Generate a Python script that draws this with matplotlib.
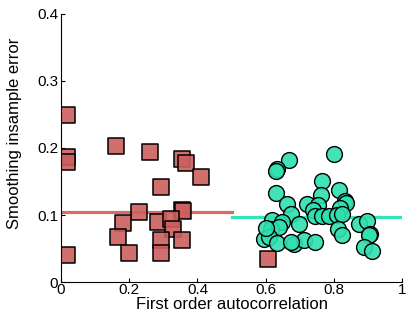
import matplotlib
matplotlib.use("Agg")
import matplotlib.pyplot as plt

# squares: low autocorrelation group
sq_x = [0.017, 0.017, 0.017, 0.017, 0.160, 0.261, 0.354, 0.367, 0.410, 0.293,
        0.230, 0.354, 0.359, 0.183, 0.285, 0.322, 0.328, 0.168, 0.292, 0.354,
        0.200, 0.292, 0.608]
sq_y = [0.249, 0.186, 0.179, 0.040, 0.203, 0.194, 0.183, 0.178, 0.157, 0.142,
        0.105, 0.108, 0.106, 0.088, 0.089, 0.094, 0.079, 0.067, 0.062, 0.062,
        0.043, 0.044, 0.035]

# circles: high autocorrelation group
ci_x = [0.801, 0.669, 0.634, 0.630, 0.764, 0.630, 0.816, 0.762, 0.662, 0.722,
        0.752, 0.833, 0.836, 0.818, 0.674, 0.740, 0.746, 0.764, 0.787, 0.809,
        0.823, 0.619, 0.647, 0.697, 0.616, 0.640, 0.812, 0.823, 0.875, 0.898,
        0.906, 0.904, 0.595, 0.611, 0.634, 0.684, 0.713, 0.745, 0.889, 0.913,
        0.600, 0.675]
ci_y = [0.191, 0.182, 0.168, 0.165, 0.151, 0.133, 0.137, 0.130, 0.116, 0.116,
        0.115, 0.121, 0.118, 0.110, 0.101, 0.107, 0.099, 0.099, 0.099, 0.100,
        0.101, 0.093, 0.090, 0.086, 0.079, 0.082, 0.079, 0.070, 0.087, 0.091,
        0.072, 0.070, 0.064, 0.067, 0.058, 0.057, 0.062, 0.060, 0.053, 0.047,
        0.080, 0.060]

# group means
mean_lo = 0.104
mean_hi = 0.0966
lo_span = [0, 0.5]
hi_span = [0.5, 1.0]

plt.rcParams['font.family'] = ['Liberation Sans', 'DejaVu Sans']

fig = plt.figure(figsize=(4.07, 3.22), dpi=100)
ax = fig.add_axes([0.150, 0.124, 0.838, 0.833])

ax.plot(lo_span, [mean_lo, mean_lo], color='#d86a6a', lw=2.3, zorder=1)
ax.plot(hi_span, [mean_hi, mean_hi], color='#30e6b4', lw=2.3, zorder=1)

ax.scatter(sq_x, sq_y, marker='s', s=120, facecolor=(0.80, 0.37, 0.37, 0.9),
           edgecolor='black', linewidth=1.1, zorder=2)
ax.scatter(ci_x, ci_y, marker='o', s=130, facecolor=(0.19, 0.88, 0.69, 0.9),
           edgecolor='black', linewidth=1.0, zorder=2)

ax.set_xlim(0, 1)
ax.set_ylim(0, 0.4)
ax.set_xticks([0, 0.2, 0.4, 0.6, 0.8, 1])
ax.set_xticklabels(['0', '0.2', '0.4', '0.6', '0.8', '1'])
ax.set_yticks([0, 0.1, 0.2, 0.3, 0.4])
ax.set_yticklabels(['0', '0.1', '0.2', '0.3', '0.4'])
ax.tick_params(direction='in', length=3, labelsize=11)
ax.tick_params(axis='x', pad=1)
ax.tick_params(axis='y', pad=2)
ax.spines['top'].set_visible(False)
ax.spines['right'].set_visible(False)

ax.set_xlabel('First order autocorrelation', fontsize=12, labelpad=0)
ax.set_ylabel('Smoothing insample error', fontsize=12)
ax.yaxis.set_label_coords(-0.114, 0.556)

fig.savefig('out.png', dpi=100)
